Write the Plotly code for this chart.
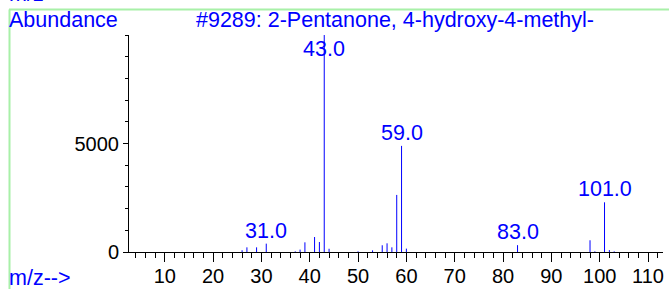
import plotly.graph_objects as go

# --- data ---
mz = [26, 27, 29, 31, 37, 38, 39, 41, 42, 43, 44, 50, 53, 55, 56, 57, 58, 59, 60, 83, 98, 99, 101, 102, 103]
abundance = [80, 215, 215, 385, 30, 110, 445, 690, 460, 9999, 150, 30, 75, 310, 400, 215, 2630, 4890, 155, 315, 540, 30, 2290, 90, 30]
labelled_peaks = [31.0, 43.0, 59.0, 83.0, 101.0]
title_text = "#9289: 2-Pentanone, 4-hydroxy-4-methyl-"
x_tick_values = [10, 20, 30, 40, 50, 60, 70, 80, 90, 100, 110]
y_tick_values = [0, 5000]

W, H = 669, 289
L, R, T, B = 129, 6, 35, 37
PW, PH = W - L - R, H - T - B

def px(x):
    return (x - L) / PW

def py(y):
    return (H - B - y) / PH

FONT = "Liberation Sans, Arial, sans-serif"
BLUE = "#0000ff"

xs, ys = [], []
for m, v in zip(mz, abundance):
    xs += [m, m, None]
    ys += [0, v, None]

fig = go.Figure()
fig.add_trace(go.Scatter(x=xs, y=ys, mode="lines", line=dict(color=BLUE, width=1),
                         hoverinfo="skip", showlegend=False))

ann = []
for p in labelled_peaks:
    v = abundance[mz.index(int(p))]
    if v > 9000:
        ann.append(dict(x=p, y=v, xref="x", yref="y", text=f"{p:.1f}", showarrow=False,
                        yanchor="top", yshift=0, font=dict(family=FONT, size=21.5, color=BLUE)))
    else:
        ann.append(dict(x=p, y=v, xref="x", yref="y", text=f"{p:.1f}", showarrow=False,
                        yanchor="bottom", yshift=-1, font=dict(family=FONT, size=21.5, color=BLUE)))

ann.append(dict(x=px(7), y=py(6), xref="paper", yref="paper", text="Abundance", showarrow=False,
                xanchor="left", yanchor="top", font=dict(family=FONT, size=21.5, color=BLUE)))
ann.append(dict(x=px(395), y=py(6), xref="paper", yref="paper", text=title_text, showarrow=False,
                xanchor="center", yanchor="top", font=dict(family=FONT, size=21.5, color=BLUE)))
ann.append(dict(x=px(7), y=py(291.5), xref="paper", yref="paper", text="m/z-->", showarrow=False,
                xanchor="left", yanchor="bottom", font=dict(family=FONT, size=21.5, color=BLUE)))
ann.append(dict(x=px(7), y=py(7.5), xref="paper", yref="paper", text="m/z-->", showarrow=False,
                xanchor="left", yanchor="bottom", font=dict(family=FONT, size=21.5, color=BLUE)))

shapes = [
    dict(type="line", xref="paper", yref="paper", x0=px(9), x1=px(W + 2), y0=py(9.5), y1=py(9.5),
         line=dict(color="#a8f0a8", width=2)),
    dict(type="line", xref="paper", yref="paper", x0=px(9.5), x1=px(9.5), y0=py(9.5), y1=py(H + 2),
         line=dict(color="#a8f0a8", width=2)),
]

fig.update_layout(
    width=W, height=H, margin=dict(l=L, r=R, t=T, b=B, pad=0, autoexpand=False),
    paper_bgcolor="white", plot_bgcolor="white",
    showlegend=False, annotations=ann, shapes=shapes,
    xaxis=dict(range=[2.6, 113.1], tickvals=x_tick_values, ticks="outside", ticklen=9,
               tickcolor="black", tickwidth=1, showline=True, linecolor="black", linewidth=1,
               showgrid=False, zeroline=False, automargin=False, ticklabelstandoff=-3,
               tickfont=dict(family=FONT, size=20, color="black"),
               minor=dict(dtick=2, tick0=0, ticks="outside", ticklen=5, tickcolor="black", tickwidth=1, showgrid=False)),
    yaxis=dict(range=[0, 10000], tickvals=y_tick_values, ticks="outside", ticklen=5,
               tickcolor="black", tickwidth=1, showline=True, linecolor="black", linewidth=1,
               showgrid=False, zeroline=False, automargin=False,
               tickfont=dict(family=FONT, size=20, color="black"),
               minor=dict(dtick=1000, tick0=0, ticks="outside", ticklen=3, tickcolor="black", tickwidth=1, showgrid=False)),
)

fig.write_html("out.html", config={"displayModeBar": False},
               post_script="document.body.style.margin='0';document.body.style.overflow='hidden';")
